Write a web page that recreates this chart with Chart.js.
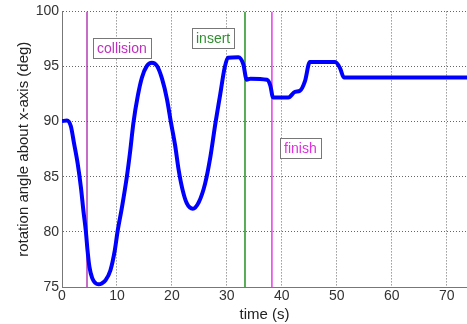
<!DOCTYPE html>
<html>
<head>
<meta charset="utf-8">
<script src="https://cdn.jsdelivr.net/npm/chart.js@4"></script>
<style>
  html, body { margin: 0; padding: 0; background: #fff; }
  #wrap { width: 467px; height: 324px; }
</style>
</head>
<body>
<div id="wrap"><canvas id="angleChart" width="467" height="324"></canvas></div>
<script>
// rotation angle
const timeValues = [0, 0.9, 1.6, 2.2, 2.85, 3.45, 3.9, 4.35, 4.65, 5.0, 5.5, 6.1, 6.65, 7.3, 7.9, 8.8, 9.6, 10.1, 10.9,
    11.8, 12.4, 13.0, 13.8, 14.55, 15.45, 16.35, 17.3, 18.2, 19.1, 19.8, 20.6, 21.2, 21.9, 22.7, 23.8,
    24.9, 26.05, 27.0, 27.9, 28.8, 29.6, 30.2, 32.1, 33.0, 33.6, 34.3, 37.3, 37.9, 38.4,
    41.2, 42.4, 43.3, 44.2, 45.1, 49.7, 50.6, 51.3, 73.7];
const angleValues = [90.05, 90.1, 89.6, 88.0, 86.2, 84.0, 81.9, 80.0, 78.3, 76.8, 75.8, 75.35, 75.25, 75.35, 75.6, 76.5, 78.3, 80.0, 82.2,
    85.0, 87.3, 89.9, 92.35, 94.0, 95.05, 95.35, 95.05, 93.9, 92.05, 90.0, 87.8, 85.7, 83.9, 82.6, 82.1,
    82.7, 84.4, 86.8, 89.8, 92.5, 94.9, 95.8, 95.85, 95.2, 93.8, 93.9, 93.8, 93.3, 92.2,
    92.2, 92.7, 92.8, 93.65, 95.4, 95.4, 94.85, 94.0, 94.0];

// events
const eventNames = ["collision", "insert", "finish"];
const eventTimes = [4.55, 33.3, 38.2];
const eventLineColors = ["#a820a8", "#008000", "#e020e0"];
const eventTextColors = ["#c030c0", "#309030", "#e030e0"];
// where the label boxes sit (data coords: left edge time, centre angle)
const labelTimes = [5.6, 23.6, 39.6];
const labelAngles = [96.7, 97.6, 87.65];

const xTicks = [0, 10, 20, 30, 40, 50, 60, 70];
const yTicks = [75, 80, 85, 90, 95, 100];

const points = timeValues.map((t, i) => ({ x: t, y: angleValues[i] }));

const datasets = [{
    data: points,
    borderColor: "#0000ff",
    borderWidth: 4,
    pointRadius: 0,
    cubicInterpolationMode: "monotone",
    fill: false,
    order: 0
}];
eventTimes.forEach((t, i) => {
    datasets.push({
        data: [{ x: t, y: 75 }, { x: t, y: 100 }],
        borderColor: eventLineColors[i],
        borderWidth: 1.3,
        pointRadius: 0,
        fill: false,
        order: 1
    });
});

// label boxes
const eventLabels = {
    id: "eventLabels",
    afterDatasetsDraw(chart) {
        const ctx = chart.ctx;
        const xs = chart.scales.x;
        const ys = chart.scales.y;
        ctx.save();
        ctx.font = "14px 'Liberation Sans', Arial, sans-serif";
        ctx.textBaseline = "middle";
        eventNames.forEach((name, i) => {
            const left = Math.round(xs.getPixelForValue(labelTimes[i]));
            const cy = Math.round(ys.getPixelForValue(labelAngles[i]));
            const w = Math.round(ctx.measureText(name).width + 8);
            const h = 20;
            ctx.fillStyle = "#fff";
            ctx.fillRect(left, cy - h / 2, w, h);
            ctx.strokeStyle = "#777";
            ctx.lineWidth = 1;
            ctx.strokeRect(left + 0.5, cy - h / 2 + 0.5, w, h);
            ctx.fillStyle = eventTextColors[i];
            ctx.fillText(name, left + 4, cy + 1);
        });
        ctx.restore();
    }
};

const tickFont = { family: "'Liberation Sans', Arial, sans-serif", size: 14 };
const titleFont = { family: "'Liberation Sans', Arial, sans-serif", size: 15 };

new Chart("angleChart", {
    type: "line",
    data: { datasets: datasets },
    options: {
        responsive: false,
        animation: false,
        layout: { padding: { top: 10, right: 0, left: 15, bottom: 0 } },
        plugins: { legend: { display: false }, tooltip: { enabled: false } },
        scales: {
            x: {
                type: "linear",
                min: 0,
                max: 73.7,
                afterBuildTicks: s => { s.ticks = xTicks.map(v => ({ value: v })); },
                afterFit: s => { s.height = 37; },
                ticks: { color: "#333", font: tickFont, padding: 1, maxRotation: 0 },
                grid: { color: "#666", lineWidth: 1, drawTicks: false },
                border: { color: "#777", dash: [1, 2], display: true },
                title: { display: true, text: "time (s)", color: "#222", font: titleFont, padding: { top: -1, bottom: 0 } }
            },
            y: {
                min: 75,
                max: 100,
                afterBuildTicks: s => { s.ticks = yTicks.map(v => ({ value: v })); },
                afterFit: s => { s.width = 47; },
                ticks: { color: "#333", font: tickFont, padding: 3 },
                grid: { color: "#666", lineWidth: 1, drawTicks: false },
                border: { color: "#777", dash: [1, 2] },
                title: { display: true, text: "rotation angle about x-axis (deg)", color: "#222", font: titleFont, padding: { top: 0, bottom: 2 } }
            }
        }
    },
    plugins: [eventLabels]
});
</script>
</body>
</html>
